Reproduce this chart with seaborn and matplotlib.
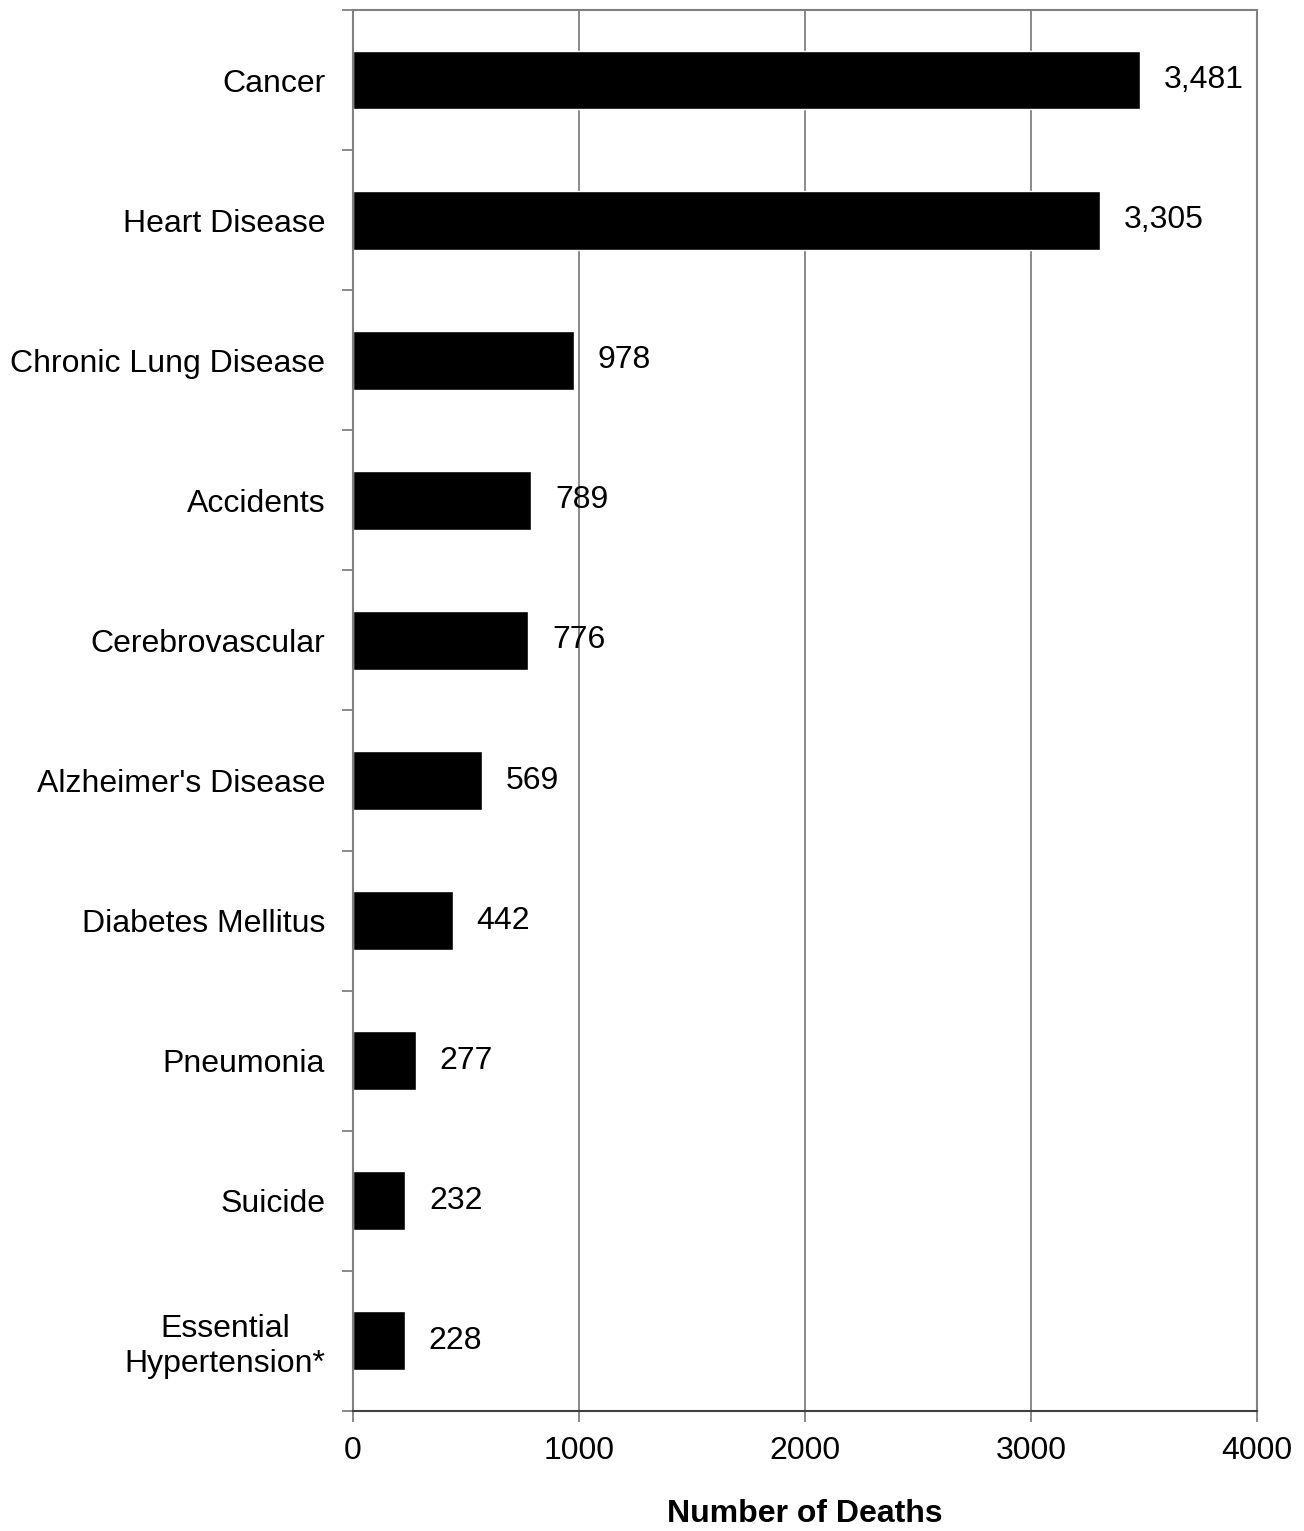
import matplotlib
matplotlib.use("Agg")
import matplotlib.pyplot as plt
import seaborn as sns
import pandas as pd
import numpy as np

# Data
causes = ["Cancer", "Heart Disease", "Chronic Lung Disease", "Accidents",
          "Cerebrovascular", "Alzheimer's Disease", "Diabetes Mellitus",
          "Pneumonia", "Suicide", "Essential\nHypertension*"]
deaths = [3481, 3305, 978, 789, 776, 569, 442, 277, 232, 228]
xticks = [0, 1000, 2000, 3000, 4000]

df = pd.DataFrame({"Cause": causes, "Deaths": deaths})

sns.set_style("white")
plt.rcParams['font.family'] = ['Liberation Sans', 'DejaVu Sans']
plt.rcParams['text.color'] = 'black'
plt.rcParams['xtick.color'] = 'black'
plt.rcParams['ytick.color'] = 'black'
plt.rcParams['axes.labelcolor'] = 'black'

fig = plt.figure(figsize=(13.04, 15.31), dpi=100)
ax = fig.add_axes([0.2707, 0.0784, 0.6933, 0.9151])

sns.barplot(data=df, y="Cause", x="Deaths", orient="h", color="black",
            width=0.42, saturation=1, ax=ax)

ax.set_xlim(0, 4000)
ax.set_ylim(len(causes) - 0.5, -0.5)
ax.set_xticks(xticks)
ax.set_xticklabels([str(t) for t in xticks], fontsize=23)
ax.xaxis.grid(True, color="#808080", linewidth=1.3)
ax.set_axisbelow(True)

# y ticks at category boundaries, labels at centers
ax.set_yticks(np.arange(len(causes)))
ax.set_yticklabels(causes, fontsize=23, multialignment="center")
ax.set_yticks(np.arange(len(causes) + 1) - 0.5, minor=True)
ax.tick_params(axis="y", which="major", length=0, pad=20)
ax.tick_params(axis="y", which="minor", length=8, width=1.3, color="#808080", direction="out", left=True)
ax.tick_params(axis="x", which="major", length=8, width=1.3, color="#808080", direction="out", bottom=True, pad=10)

for s in ax.spines.values():
    s.set_color("#808080")
    s.set_linewidth(1.5)
ax.spines["bottom"].set_color("#404040")

for i, v in enumerate(deaths):
    ax.text(v + 105, i, f"{v:,}", va="center", ha="left", fontsize=23)

ax.set_xlabel("Number of Deaths", fontsize=23, fontweight="bold", labelpad=24)
ax.set_ylabel("")

fig.savefig("out.png", dpi=100)
